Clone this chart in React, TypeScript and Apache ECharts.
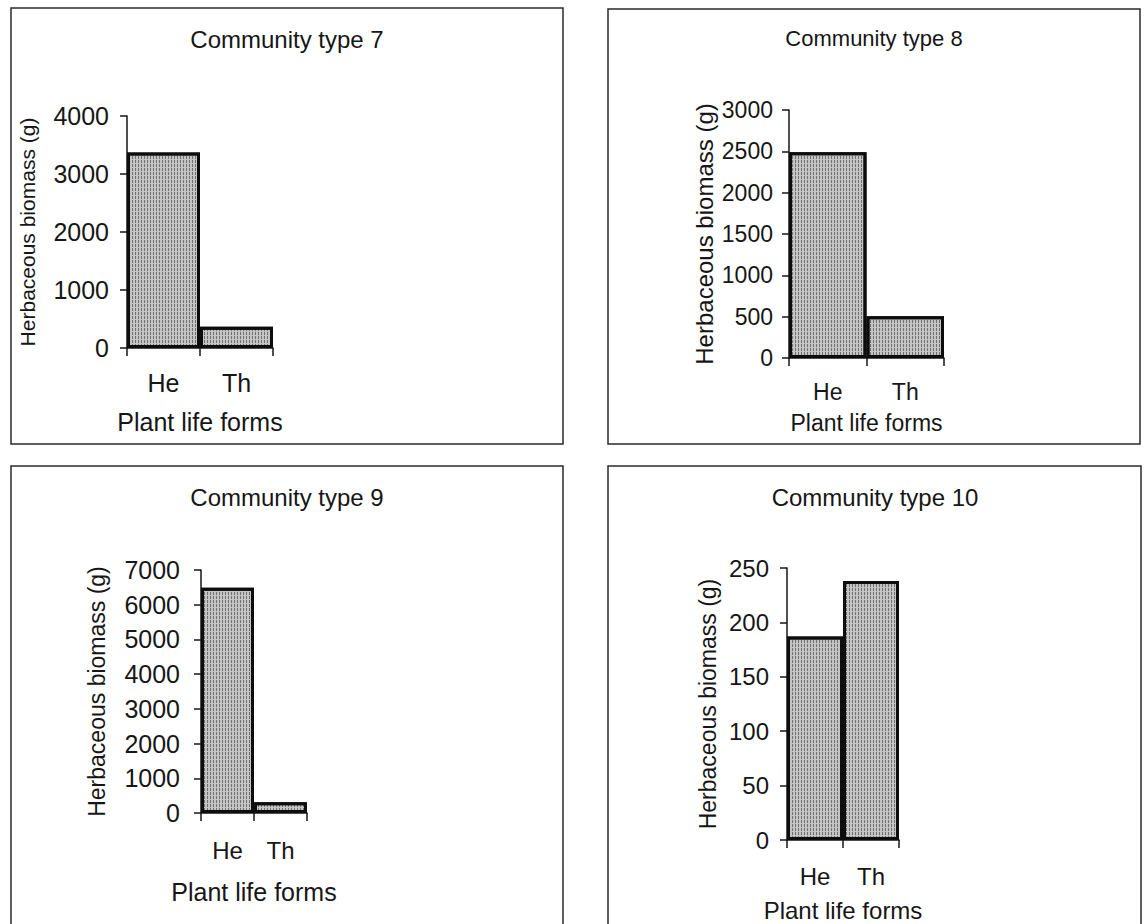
import React, { useEffect, useRef } from "react";
import * as echarts from "echarts";

// Plant life form categories shared by every community type
const lifeForms = ["He", "Th"];

// Herbaceous biomass (g) per life form
const community7 = [3370, 365];
const community8 = [2490, 505];
const community9 = [6490, 310];
const community10 = [187, 238];

const panelTitles = ["Community type 7", "Community type 8", "Community type 9", "Community type 10"];
const yMaxes = [4000, 3000, 7000, 250];
const yIntervals = [1000, 500, 1000, 50];

const yAxisName = "Herbaceous biomass (g)";
const xAxisName = "Plant life forms";

const FONT = "'Liberation Sans', Arial, Helvetica, sans-serif";
const INK = "#161616";

// Layout of each panel: frame, plot area, font sizes and gaps
const panels = [
  {
    data: community7,
    frame: [11, 8, 552, 436],
    grid: { left: 127, top: 116, width: 146, height: 232 },
    title: { x: 287, y: 39, size: 24 },
    tickSize: 25, tickMargin: 18,
    catSize: 25, catMargin: 22,
    yNameSize: 21, yNameGap: 89,
    xNameSize: 25, xNameGap: 61,
  },
  {
    data: community8,
    frame: [608, 9, 532, 435],
    grid: { left: 789, top: 110, width: 155, height: 248 },
    title: { x: 874, y: 38, size: 22 },
    tickSize: 23, tickMargin: 16,
    catSize: 23, catMargin: 22,
    yNameSize: 24, yNameGap: 73,
    xNameSize: 23, xNameGap: 53,
  },
  {
    data: community9,
    frame: [11, 466, 552, 480],
    grid: { left: 201, top: 570, width: 106, height: 243 },
    title: { x: 287, y: 497, size: 24 },
    tickSize: 25, tickMargin: 21,
    catSize: 24, catMargin: 25,
    yNameSize: 23, yNameGap: 93,
    xNameSize: 25, xNameGap: 66,
  },
  {
    data: community10,
    frame: [608, 466, 533, 480],
    grid: { left: 787, top: 568, width: 112, height: 272 },
    title: { x: 875, y: 497, size: 24 },
    tickSize: 24, tickMargin: 18,
    catSize: 24, catMargin: 24,
    yNameSize: 23, yNameGap: 68,
    xNameSize: 24, xNameGap: 58,
  },
];

export default function App() {
  const ref = useRef<HTMLDivElement>(null);

  useEffect(() => {
    if (!ref.current) return;
    const chart = echarts.init(ref.current, null, { renderer: "svg" });

    const axisLine = { show: true, lineStyle: { color: INK, width: 1.5 } };

    const option = {
      animation: false,
      backgroundColor: "#ffffff",
      grid: panels.map((p) => ({ ...p.grid, containLabel: false })),
      xAxis: panels.map((p, i) => ({
        type: "category",
        gridIndex: i,
        data: lifeForms,
        boundaryGap: true,
        axisLine,
        axisTick: { show: true, alignWithLabel: false, length: 8, lineStyle: { color: INK, width: 1.5 } },
        axisLabel: { color: INK, fontSize: p.catSize, fontFamily: FONT, margin: p.catMargin },
        splitLine: { show: false },
        name: xAxisName,
        nameLocation: "middle",
        nameGap: p.xNameGap,
        nameTextStyle: { color: INK, fontSize: p.xNameSize, fontFamily: FONT },
      })),
      yAxis: panels.map((p, i) => ({
        type: "value",
        gridIndex: i,
        min: 0,
        max: yMaxes[i],
        interval: yIntervals[i],
        axisLine,
        axisTick: { show: true, inside: false, length: 7, lineStyle: { color: INK, width: 1.5 } },
        axisLabel: {
          color: INK,
          fontSize: p.tickSize,
          fontFamily: FONT,
          margin: p.tickMargin,
          formatter: (v: number) => String(v),
        },
        splitLine: { show: false },
        name: yAxisName,
        nameLocation: "middle",
        nameGap: p.yNameGap,
        nameTextStyle: { color: INK, fontSize: p.yNameSize, fontFamily: FONT },
      })),
      series: panels.map((p, i) => ({
        type: "bar",
        xAxisIndex: i,
        yAxisIndex: i,
        data: p.data,
        barCategoryGap: "0%",
        itemStyle: {
          color: "#c4c4c4",
          borderColor: "#0d0d0d",
          borderWidth: 3,
          decal: {
            symbol: "rect",
            symbolSize: 1,
            dashArrayX: [1, 2],
            dashArrayY: [3, 1],
            color: "rgba(30,30,30,0.5)",
          },
        },
      })),
      graphic: [
        ...panels.map((p) => ({
          type: "rect",
          shape: { x: p.frame[0], y: p.frame[1], width: p.frame[2], height: p.frame[3] },
          style: { fill: "none", stroke: "#2a2a2a", lineWidth: 1.5 },
          silent: true,
        })),
        ...panels.map((p, i) => ({
          type: "text",
          x: p.title.x,
          y: p.title.y,
          style: {
            text: panelTitles[i],
            align: "center",
            verticalAlign: "middle",
            fill: INK,
            font: `${p.title.size}px ${FONT}`,
          },
          silent: true,
        })),
      ],
    };

    chart.setOption(option as any);
    return () => chart.dispose();
  }, []);

  return (
    <div
      ref={ref}
      style={{ position: "absolute", left: 0, top: 0, width: 1144, height: 924, background: "#fff" }}
    />
  );
}
